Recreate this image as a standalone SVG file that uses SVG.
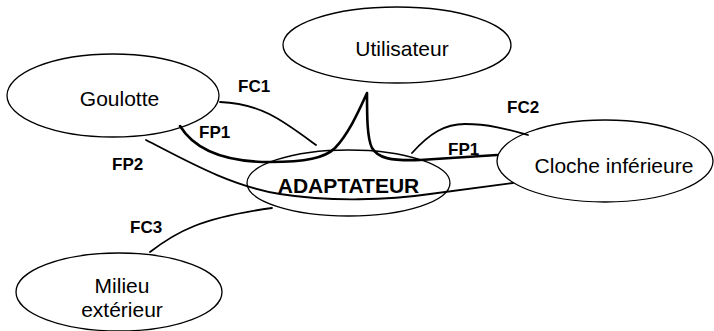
<svg xmlns="http://www.w3.org/2000/svg" width="714" height="331" viewBox="0 0 714 331">
<style>
.n{fill:none;stroke:#000;stroke-width:1.3}
.t{font-family:"Liberation Sans",Arial,sans-serif;font-size:21px;fill:#000;text-anchor:middle}
.b{font-family:"Liberation Sans",Arial,sans-serif;font-size:17px;font-weight:bold;fill:#000}
.c{fill:none;stroke:#000;stroke-width:1.8;stroke-linecap:round}
.k{fill:none;stroke:#000;stroke-width:2.6;stroke-linecap:round;stroke-linejoin:round}
</style>
<rect width="714" height="331" fill="#fff"/>
<g id="connectors">
<path class="c" d="M220,102 C262,104 282,120 316,145"/>
<path class="k" d="M180,126 C196,152 228,162 270,162 C305,162 325,158 335,148 C350,132 360,108 367,93 C367,115 367,138 372,148 C378,158 390,161 420,160 L497,155"/>
<path class="c" d="M412,153 C430,133 445,124 465,124 C490,124 510,130 528,135"/>
<path class="c" d="M146,140 C185,160 230,186 280,194 C330,202 390,200 430,194 L513,183"/>
<path class="c" d="M150,252 C176,232 200,218 272,208"/>
<text class="b" x="238" y="92">FC1</text>
<text class="b" x="199" y="138">FP1</text>
<text class="b" x="112" y="170">FP2</text>
<text class="b" x="507" y="113">FC2</text>
<text class="b" x="448" y="155">FP1</text>
<text class="b" x="130" y="233">FC3</text>
</g>
<g id="utilisateur">
<ellipse class="n" cx="397" cy="45" rx="114" ry="38"/>
<text class="t" x="402" y="56">Utilisateur</text>
</g>
<g id="goulotte">
<ellipse class="n" cx="113" cy="95.5" rx="106" ry="41.5"/>
<text class="t" x="119.5" y="106">Goulotte</text>
</g>
<g id="adaptateur">
<ellipse class="n" cx="348.5" cy="183" rx="101.5" ry="33"/>
<text class="t" x="348.5" y="193" style="font-weight:bold">ADAPTATEUR</text>
</g>
<g id="cloche">
<ellipse class="n" cx="605" cy="161" rx="108" ry="41"/>
<text class="t" x="614" y="173">Cloche inférieure</text>
</g>
<g id="milieu">
<ellipse class="n" cx="119" cy="292" rx="103" ry="39"/>
<text class="t" x="122" y="293">Milieu</text>
<text class="t" x="122" y="317">extérieur</text>
</g>
</svg>
